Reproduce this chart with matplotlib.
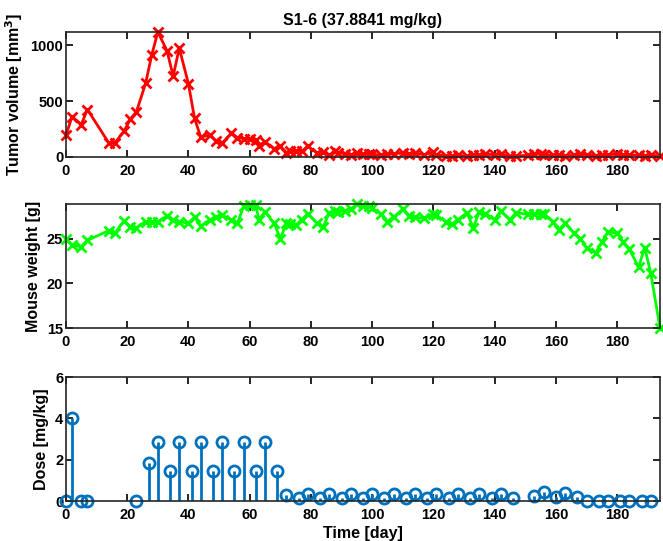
import matplotlib
matplotlib.use("Agg")
import matplotlib.pyplot as plt

plt.rcParams["font.family"] = ["Liberation Sans", "DejaVu Sans"]
plt.rcParams["font.weight"] = "bold"
plt.rcParams["font.size"] = 10.5

# measurement days (tumor volume and mouse weight)
days = [0, 2, 5, 7, 14, 16, 19, 21, 23, 26, 28, 30, 33, 35, 37, 40, 42, 44, 47, 49,
        51, 54, 56, 58, 60, 62, 63, 65, 68, 70, 72, 73, 75, 77, 79, 82, 84, 86, 88, 89,
        91, 93, 95, 97, 99, 100, 103, 105, 107, 110, 112, 114, 117, 120, 121, 124, 126, 128, 131, 133,
        135, 137, 140, 142, 145, 147, 151, 153, 155, 156, 159, 161, 163, 166, 168, 170, 173, 175, 177, 180,
        182, 184, 187, 189, 191, 194]

tumor = [195, 361, 290, 424, 125, 125, 233, 335, 403, 657, 910, 1116, 949, 722, 972, 653, 344, 179, 195, 144,
         125, 211, 174, 165, 160, 156, 100, 135, 75, 96, 36, 54, 51, 50, 96, 36, 45, 15, 54, 40,
         30, 20, 35, 25, 30, 25, 15, 25, 30, 35, 30, 35, 20, 45, 20, 10, 8, 15, 10, 20,
         15, 25, 20, 30, 5, 10, 15, 25, 30, 20, 15, 20, 10, 15, 25, 20, 10, 15, 20, 25,
         15, 20, 15, 10, 15, 10]

weight = [24.9, 24.25, 24.1, 24.8, 25.9, 25.6, 27.0, 26.3, 26.2, 26.9, 26.8, 26.9, 27.5, 27.1, 26.9, 26.7, 27.4, 26.4, 27.1, 27.4,
          27.6, 27.1, 26.7, 28.6, 28.75, 28.75, 27.1, 28.0, 26.7, 25.0, 26.7, 26.6, 26.5, 27.1, 27.8, 26.7, 26.3, 27.9, 28.1, 28.0,
          28.1, 28.3, 28.85, 28.6, 28.6, 28.4, 27.7, 26.9, 27.4, 28.3, 27.5, 27.4, 27.25, 27.8, 27.6, 26.9, 26.6, 27.1, 27.9, 26.2,
          28.0, 27.8, 27.1, 28.1, 27.1, 27.9, 27.7, 27.8, 27.7, 27.8, 26.9, 26.0, 26.7, 25.6, 25.0, 24.0, 23.4, 24.6, 25.75, 25.6,
          24.6, 23.8, 21.8, 24.0, 21.1, 15.0]

dose_days = [0, 2, 5, 7, 23, 27, 30, 34, 37, 41, 44, 48, 51, 55, 58, 62, 65, 69, 72, 76,
             79, 83, 86, 90, 93, 97, 100, 104, 107, 111, 114, 118, 121, 125, 128, 132, 135, 139, 142, 146,
             153, 156, 160, 163, 167, 170, 174, 177, 181, 184, 188, 191]
dose = [0, 4.0, 0, 0, 0, 1.82, 2.84, 1.47, 2.84, 1.47, 2.84, 1.47, 2.84, 1.47, 2.84, 1.47, 2.84, 1.47, 0.3, 0.15,
        0.33, 0.15, 0.33, 0.15, 0.33, 0.15, 0.33, 0.15, 0.33, 0.15, 0.33, 0.15, 0.33, 0.15, 0.33, 0.15, 0.33, 0.15, 0.33, 0.15,
        0.25, 0.42, 0.2, 0.4, 0.2, 0, 0, 0, 0, 0, 0, 0]

blue = (0, 0.447, 0.741)
lab = 11.5

fig = plt.figure(figsize=(6.63, 5.41), dpi=100)
ax1 = fig.add_axes([0.0995, 0.7098, 0.896, 0.231])
ax2 = fig.add_axes([0.0995, 0.3937, 0.896, 0.229])
ax3 = fig.add_axes([0.0995, 0.0739, 0.896, 0.229])

ax1.plot(days, tumor, color="r", marker="x", lw=2, ms=7, mew=2)
ax1.set_ylim(0, max(tumor))
ax1.set_yticks([0, 500, 1000])
ax1.set_ylabel("Tumor volume [mm$^\\mathbf{3}$]", fontweight="bold", fontsize=lab)
ax1.set_title("S1-6 (37.8841 mg/kg)", fontweight="bold", fontsize=lab, pad=5)

ax2.plot(days, weight, color=(0, 1, 0), marker="x", lw=2, ms=7, mew=2)
ax2.set_ylim(min(weight), max(weight))
ax2.set_yticks([15, 20, 25])
ax2.set_ylabel("Mouse weight [g]", fontweight="bold", fontsize=lab)

ml, sl, bl = ax3.stem(dose_days, dose, basefmt=" ")
plt.setp(ml, color=blue, marker="o", markerfacecolor="none", ms=8, mew=2)
plt.setp(sl, color=blue, lw=2)
ax3.set_ylim(0, 6)
ax3.set_yticks([0, 2, 4, 6])
ax3.set_ylabel("Dose [mg/kg]", fontweight="bold", fontsize=lab)
ax3.set_xlabel("Time [day]", fontweight="bold", fontsize=lab, labelpad=3)

for ax in (ax1, ax2, ax3):
    ax.set_xlim(0, 194)
    ax.set_xticks(range(0, 181, 20))
    ax.tick_params(direction="in", top=True, right=True, width=1.2, length=5)
    ax.tick_params(axis="x", pad=5)
    ax.tick_params(axis="y", pad=2)
    for s in ax.spines.values():
        s.set_linewidth(1.2)
        s.set_color("#262626")
    for m in ax.lines:
        m.set_clip_on(False)

fig.savefig("out.png", dpi=100)
